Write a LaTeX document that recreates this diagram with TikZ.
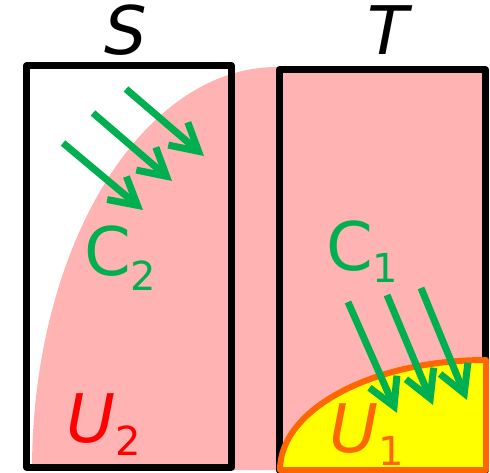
\documentclass[tikz,border=0pt]{standalone}
\usepackage{fontspec}
\setmainfont{DejaVu Sans}
\usetikzlibrary{arrows.meta}
\definecolor{pinkfill}{HTML}{FFB3B3}
\definecolor{grn}{HTML}{00B050}
\definecolor{orng}{HTML}{FF6600}
\definecolor{yel}{HTML}{FFFF00}
\definecolor{redc}{HTML}{FF0000}
\newcommand\lblsub[2]{\raisebox{-#1pt}{\fontsize{40}{48}\selectfont #2}}
\begin{document}
\begin{tikzpicture}[x=1pt,y=-1pt,
  setbox/.style={draw=black,line width=7pt,line join=round,inner sep=0pt,outer sep=0pt},
  flow/.style={grn,line width=7pt,-{Straight Barb[length=27pt,width=30pt]}},
  big/.style={font=\fontsize{67}{80}\selectfont,inner sep=0pt,anchor=base west},
]
\useasboundingbox (0,0) rectangle (490,473);
% covered region (pink)
\fill[pinkfill] (32,470) arc[start angle=180,end angle=90,x radius=245pt,y radius=403pt] -- (485,67) -- (485,470) -- cycle;
% boxes
\node[setbox,minimum width=205pt,minimum height=401pt] (S) at (129,266.5) {};
\node[setbox,minimum width=206pt,minimum height=400pt] (T) at (382.5,270) {};
% U1 region
\filldraw[fill=yel,draw=orng,line width=6pt,line join=round] (280,470) arc[start angle=180,end angle=90,x radius=206pt,y radius=110pt] -- (486,470) -- cycle;
% arrows in S
\coordinate (a1s) at (63,143); \coordinate (a1e) at (143,210);
\coordinate (a2s) at (93,113); \coordinate (a2e) at (172,181);
\coordinate (a3s) at (126,89); \coordinate (a3e) at (204,156);
\draw[flow] (a1s) -- (a1e);
\draw[flow] (a2s) -- (a2e);
\draw[flow] (a3s) -- (a3e);
% arrows in T
\coordinate (b1s) at (348,302); \coordinate (b1e) at (397,413);
\coordinate (b2s) at (387,295); \coordinate (b2e) at (433,405);
\coordinate (b3s) at (421,288); \coordinate (b3e) at (467,400);
\draw[flow] (b1s) -- (b1e);
\draw[flow] (b2s) -- (b2e);
\draw[flow] (b3s) -- (b3e);
% labels
\node[big,anchor=base] (Slab) at (126,55) {\textit{S}};
\node[big,anchor=base] (Tlab) at (390,55) {\textit{T}};
\node[big,text=grn] (C2) at (84,275) {C\lblsub{16}{2}};
\node[big,text=grn] (C1) at (326,270) {C\lblsub{13}{1}};
\node[big,text=redc] (U2) at (66,442) {\textit{U}\lblsub{13}{2}};
\node[big,text=orng] (U1) at (329,452) {\textit{U}\lblsub{13}{1}};
\end{tikzpicture}
\end{document}
